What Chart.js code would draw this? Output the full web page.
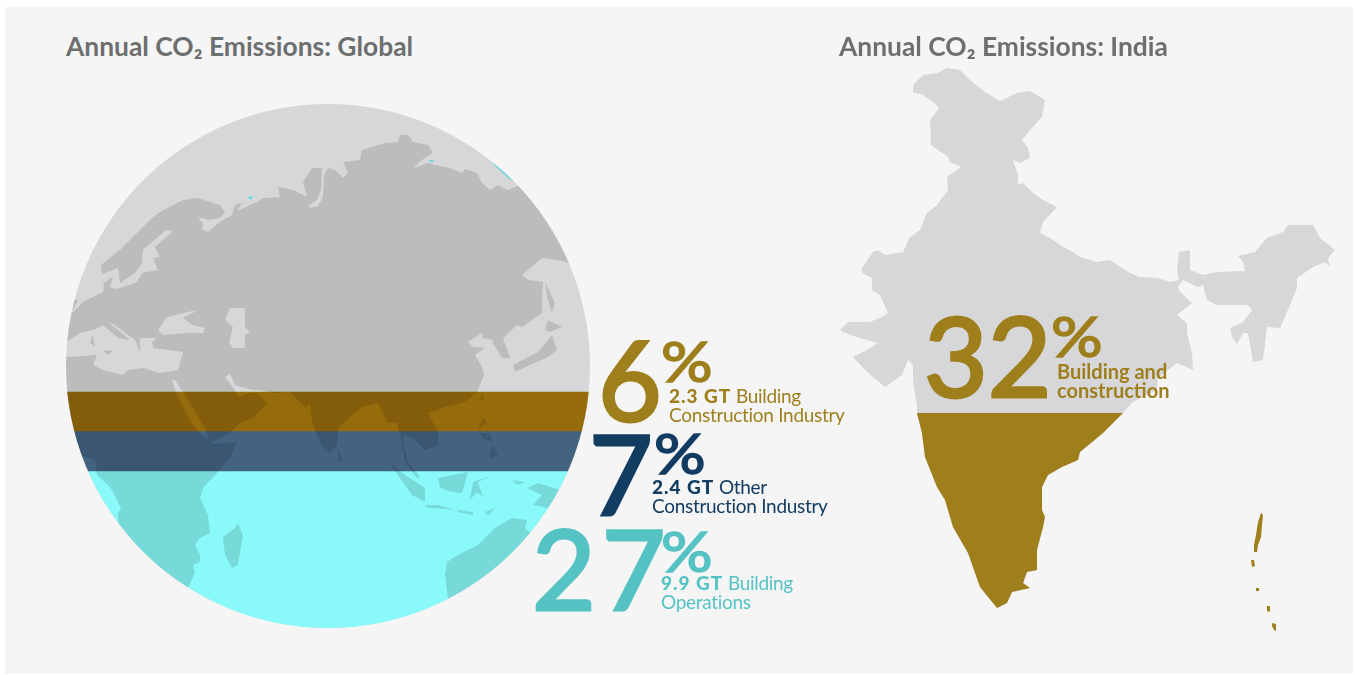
<!DOCTYPE html>
<html>
<head>
<meta charset="utf-8">
<title>Annual CO2 Emissions</title>
<script src="https://cdn.jsdelivr.net/npm/chart.js@4"></script>
<style>
  html, body { margin: 0; padding: 0; background: #fff; }
  body { width: 1355px; height: 675px; position: relative; overflow: hidden; font-family: Lato, sans-serif; }
  #panel { position: absolute; left: 5px; top: 7px; width: 1348px; height: 667px; background: #f5f5f5; }
  canvas { position: absolute; }
  #globeChart { left: 60px; top: 100px; }
  #indiaChart { left: 830px; top: 60px; }
  .title { position: absolute; top: 31px; font-size: 26.4px; line-height: 30px; font-weight: 700; color: #6d6f6f; white-space: nowrap; }
  .num, .pct, .desc { position: absolute; white-space: nowrap; }
  .num { font-size: 110px; line-height: 110px; font-weight: 400; -webkit-text-stroke: 3px currentColor; }
  .pct { font-size: 56px; line-height: 56px; font-weight: 400; -webkit-text-stroke: 1.6px currentColor; transform: scaleX(1.15); transform-origin: left top; }
  .desc { font-size: 19px; line-height: 19px; letter-spacing: -0.3px; }
  .desc b { font-weight: 900; letter-spacing: 1px; }
  .gold { color: #9e7f1c; }
  .navy { color: #123c61; }
  .teal { color: #55c3c3; }
</style>
</head>
<body>
<div id="panel"></div>
<canvas id="globeChart" width="540" height="540"></canvas>
<canvas id="indiaChart" width="510" height="580"></canvas>

<div class="title" style="left:66px" id="titleGlobal"></div>
<div class="title" style="left:839px" id="titleIndia"></div>

<div class="num gold" style="left:598px;top:323px" id="num0"></div>
<div class="pct gold" style="left:661px;top:333px" id="pct0"></div>
<div class="desc gold" style="left:669px;top:386px" id="desc0"></div>

<div class="num navy" style="left:589px;top:417px" id="num1"></div>
<div class="pct navy" style="left:654px;top:425px" id="pct1"></div>
<div class="desc navy" style="left:652px;top:477px" id="desc1"></div>

<div class="num teal" style="left:532px;top:512px;letter-spacing:6px" id="num2"></div>
<div class="pct teal" style="left:661px;top:523px" id="pct2"></div>
<div class="desc teal" style="left:661px;top:573px" id="desc2"></div>

<div class="num gold" style="left:924px;top:299px" id="num3"></div>
<div class="pct gold" style="left:1051px;top:308px" id="pct3"></div>
<div class="desc gold" style="left:1057px;top:362px;font-weight:700;font-size:20px;letter-spacing:0" id="desc3"></div>

<script>
const titles = ["Annual CO₂ Emissions: Global", "Annual CO₂ Emissions: India"];
const bandNames = ["Building Construction Industry", "Other Construction Industry", "Building Operations"];
const sharePercent = [6, 7, 27];
const shareGt = ["2.3 GT", "2.4 GT", "9.9 GT"];
const descFirst = ["Building", "Other", "Building"];
const descSecond = ["Construction Industry", "Construction Industry", "Operations"];
const indiaPercent = 32;
const indiaLines = ["Building and", "construction"];

// band heights as drawn on the globe, in GT of the band axis
const bandHeights = [2.44, 2.5, 9.81];
const bandColors = ["#966b0b", "#436381", "#8af9f9"];

const globeCenter = [328, 366];
const globeRadius = 262;

// map outlines, in map units
const eurasiaAfrica = [
  [60,313],[72,313],[83,302],[103,292],[104,283],[113,276],[110,287],[117,289],[137,282],[142,273],[158,270],[153,258],
  [178,254],[160,257],[155,247],[173,231],[166,230],[143,250],[142,263],[135,273],[120,283],[118,268],[102,274],[101,265],
  [122,248],[138,232],[150,220],[160,212],[183,200],[198,198],[220,205],[225,212],[220,218],[208,220],[198,217],[203,224],
  [202,229],[208,232],[218,223],[232,215],[235,205],[242,203],[237,211],[257,202],[263,198],[280,197],[278,187],[293,190],
  [307,197],[303,182],[312,168],[322,168],[321,190],[317,200],[308,206],[310,208],[318,206],[323,197],[324,175],[328,168],
  [335,170],[343,178],
  [348,173],[343,162],[360,160],[362,150],[385,143],[398,142],[400,135],[408,135],[413,142],[428,145],[433,153],[422,160],
  [413,168],[428,163],[435,165],[450,168],[462,173],[465,169],[477,173],[482,183],[490,190],[498,185],[508,190],[520,185],
  [545,190],[590,263],[570,263],[558,260],[542,258],[522,275],[528,280],[543,282],[542,300],[542,313],[522,327],[517,325],
  [503,338],[510,358],[502,358],[493,343],[493,340],[483,338],[482,333],[468,342],[473,347],[485,348],[475,355],[482,367],
  [484,375],[477,392],[465,402],[442,408],[428,413],[438,432],[438,445],[425,450],[415,440],[405,435],[403,442],[408,462],
  [420,477],[417,478],[405,462],[402,445],[397,423],[388,423],[378,403],[362,407],[338,428],[337,445],[330,453],[325,448],
  [323,448],[317,435],[312,422],[310,403],[305,408],[300,402],[290,392],[273,393],[260,390],[252,390],[235,385],[230,374],
  [225,377],[235,390],[238,397],[250,393],[257,393],[267,403],[253,418],[240,423],[230,433],[210,443],[207,432],[193,408],
  [183,392],[175,380],[172,379],[175,390],[187,415],[195,428],[203,437],[212,444],[237,442],[230,458],[217,473],[203,488],
  [200,498],[208,515],[210,533],[200,538],[195,545],[200,555],[200,562],[193,565],[195,573],[188,588],[140,600],[118,522],
  [118,513],[121,509],[116,498],[110,487],[97,475],[95,460],[87,457],[72,455],[50,450],[50,360],[67,357],[97,355],[93,365],
  [103,370],[123,375],[128,370],[143,368],[160,373],[178,370],[183,352],[153,348],[152,342],[157,338],[150,338],[140,338],
  [140,352],[135,340],[128,335],[115,325],[108,322],[130,340],[118,338],[103,325],[93,330],[80,333],[67,342],[50,345]
];
const blackSea = [[158,330],[167,317],[175,315],[188,312],[198,310],[183,318],[193,325],[205,328],[203,333],[187,333],[163,335]];
const caspianSea = [[225,320],[230,308],[245,308],[245,327],[250,332],[245,335],[245,348],[233,348],[229,342],[233,327]];
const smallIslands = [
  [[73,310],[78,300],[72,300]],
  [[90,343],[93,335],[95,347]],
  [[103,350],[113,351],[108,355]],
  [[480,398],[484,393],[482,403]],
  [[338,450],[343,460],[338,462]],
  [[390,463],[405,475],[425,488],[425,502],[412,495],[400,478]],
  [[425,505],[438,505],[455,510],[445,509],[428,508]],
  [[457,510],[473,512],[473,515],[458,512]],
  [[485,512],[497,507],[488,515]],
  [[438,478],[468,472],[462,493],[452,492],[440,488]],
  [[470,500],[473,482],[493,475],[478,482],[483,497],[477,492]],
  [[483,417],[487,422],[478,430]],
  [[492,445],[498,455],[490,458]],
  [[480,433],[490,433],[492,442],[482,438]],
  [[472,458],[458,472],[468,462]],
  [[527,488],[538,483],[560,490],[548,508],[533,505],[542,495]],
  [[512,480],[525,482],[518,485]],
  [[447,562],[458,555],[478,545],[495,528],[512,518],[527,520],[525,528],[530,533],[560,560],[480,620],[448,600],[445,575]],
  [[238,523],[243,535],[238,565],[232,568],[225,555],[223,537],[235,528]],
  [[545,282],[555,303],[552,313],[547,297]],
  [[548,320],[562,327],[550,332],[545,330]],
  [[552,335],[557,350],[548,357],[530,365],[515,372],[513,365],[538,352],[548,340]]
];
const arcticLakes = [
  [[247,197],[253,196],[251,200]],
  [[429,160],[433,160],[434,162],[430,162]],
  [[491,162],[503,170],[515,182],[508,178],[497,168]]
];

const indiaOutline = [
  [913,85],[913,92],[923,95],[933,102],[939,108],[930,120],[931,145],[948,157],[950,162],[961,167],[947,177],[948,190],
  [937,205],[927,213],[920,230],[910,237],[903,252],[885,255],[878,250],[873,252],[862,268],[862,273],[872,278],[872,290],
  [880,295],[888,313],[882,317],[870,322],[848,322],[840,330],[850,335],[867,340],[878,343],[867,350],[853,357],[867,372],
  [885,387],[902,375],[908,360],[913,365],[913,380],[917,407],[917,413],[922,433],[925,457],[937,487],[945,500],[953,527],
  [968,553],[980,587],[997,608],[1007,603],[1012,592],[1030,588],[1023,583],[1027,572],[1037,570],[1037,550],[1043,527],
  [1045,517],[1042,510],[1042,487],[1048,475],[1062,467],[1078,460],[1080,452],[1103,433],[1123,413],[1133,402],[1157,390],
  [1158,378],[1177,363],[1193,370],[1192,353],[1187,333],[1187,323],[1177,315],[1192,303],[1180,292],[1178,287],[1183,280],
  [1198,287],[1203,285],[1207,300],[1217,305],[1248,305],[1252,310],[1243,322],[1230,328],[1232,337],[1237,344],[1243,333],
  [1248,333],[1253,362],[1263,360],[1267,327],[1280,328],[1290,305],[1297,288],[1297,278],[1313,267],[1325,262],[1330,267],
  [1328,258],[1335,250],[1320,238],[1313,225],[1288,225],[1283,232],[1267,238],[1255,252],[1238,256],[1243,262],[1245,271],
  [1217,272],[1203,275],[1190,270],[1190,250],[1179,252],[1177,270],[1179,280],[1170,282],[1158,278],[1140,277],[1130,273],
  [1110,260],[1097,262],[1080,257],[1073,252],[1063,247],[1050,238],[1040,233],[1043,222],[1057,207],[1043,200],[1033,193],
  [1023,183],[1018,185],[1018,175],[1013,160],[1020,163],[1030,158],[1028,148],[1022,140],[1032,128],[1042,117],[1045,100],
  [1030,91],[1017,93],[1000,101],[985,92],[970,80],[960,70],[947,68],[937,73],[923,75]
];
const indiaIslands = [
  [[1261,513],[1263,515],[1262,525],[1261,537],[1258,545],[1257,552],[1254,552],[1254,545],[1256,535],[1258,522]],
  [[1251,560],[1254,560],[1255,566],[1252,567]],
  [[1256,588],[1259,588],[1259,591],[1256,591]],
  [[1267,606],[1270,606],[1270,612],[1267,611]],
  [[1272,623],[1276,624],[1276,631],[1274,630],[1272,626]]
];
// top of the 32% share on the India map
const indiaShareTop = 413;

function toPoints(rings) {
  return rings.flatMap((ring) => [...ring, [NaN, NaN]]);
}

// fills a scatter dataset as closed rings, using the points the scales placed
const polygonFill = {
  id: "polygonFill",
  afterDatasetDraw(chart, args) {
    const ds = chart.data.datasets[args.index];
    if (!ds.polygonColor) return;
    const ctx = chart.ctx;
    ctx.save();
    if (ds.belowValue !== undefined) {
      const top = chart.scales.mapY.getPixelForValue(ds.belowValue);
      ctx.beginPath();
      ctx.rect(0, top, chart.width, chart.height - top);
      ctx.clip();
    }
    ctx.beginPath();
    let start = true;
    args.meta.data.forEach((pt) => {
      if (pt.skip) {
        ctx.closePath();
        start = true;
        return;
      }
      if (start) ctx.moveTo(pt.x, pt.y);
      else ctx.lineTo(pt.x, pt.y);
      start = false;
    });
    ctx.fillStyle = ds.polygonColor;
    ctx.fill("evenodd");
    ctx.restore();
  },
};

// paints the globe disc and keeps the bands and land inside it
const globeDisc = {
  id: "globeDisc",
  beforeDatasetsDraw(chart) {
    const { mapX, mapY } = chart.scales;
    const ctx = chart.ctx;
    const cx = mapX.getPixelForValue(globeCenter[0]);
    const cy = mapY.getPixelForValue(globeCenter[1]);
    const r = mapX.getPixelForValue(globeCenter[0] + globeRadius) - cx;
    ctx.save();
    ctx.beginPath();
    ctx.arc(cx, cy, r, 0, Math.PI * 2);
    ctx.fillStyle = "#d7d7d9";
    ctx.fill();
    ctx.clip();
  },
  afterDatasetsDraw(chart) {
    chart.ctx.restore();
  },
};

function mapDataset(data, color, order, extra) {
  return {
    type: "scatter",
    data,
    xAxisID: "mapX",
    yAxisID: "mapY",
    pointRadius: 0,
    showLine: false,
    polygonColor: color,
    order,
    ...extra,
  };
}

const hiddenAxis = (axis, min, max, reverse) => ({ axis, type: "linear", display: false, offset: false, min, max, reverse });

new Chart(document.getElementById("globeChart"), {
  type: "bar",
  plugins: [polygonFill, globeDisc],
  data: {
    labels: ["Global"],
    datasets: [
      ...bandHeights.map((h, i) => ({
        label: bandNames[i],
        data: [h],
        backgroundColor: bandColors[i],
        xAxisID: "band",
        yAxisID: "gt",
        stack: "share",
        grouped: false,
        barPercentage: 1,
        categoryPercentage: 1,
        order: 3,
      })),
      mapDataset(toPoints([eurasiaAfrica, blackSea, caspianSea, ...smallIslands]), "rgba(0,0,0,0.125)", 2),
      mapDataset(toPoints(arcticLakes), "#6fd8d8", 1),
    ],
  },
  options: {
    responsive: false,
    animation: false,
    events: [],
    layout: { padding: 0 },
    plugins: { legend: { display: false }, tooltip: { enabled: false } },
    scales: {
      band: { axis: "x", type: "category", display: false, offset: true, stacked: true },
      gt: { ...hiddenAxis("y", -18.25, 15.5, true), stacked: true },
      mapX: hiddenAxis("x", 60, 600, false),
      mapY: hiddenAxis("y", 100, 640, true),
    },
  },
});

new Chart(document.getElementById("indiaChart"), {
  type: "scatter",
  plugins: [polygonFill],
  data: {
    datasets: [
      mapDataset(toPoints([indiaOutline]), "#d7d7d9", 3),
      mapDataset(toPoints([indiaOutline]), "#9e7f1c", 2, { belowValue: indiaShareTop }),
      mapDataset(toPoints(indiaIslands), "#9e7f1c", 1),
    ],
  },
  options: {
    responsive: false,
    animation: false,
    events: [],
    layout: { padding: 0 },
    plugins: { legend: { display: false }, tooltip: { enabled: false } },
    scales: {
      mapX: hiddenAxis("x", 830, 1340, false),
      mapY: hiddenAxis("y", 60, 640, true),
    },
  },
});

document.getElementById("titleGlobal").textContent = titles[0];
document.getElementById("titleIndia").textContent = titles[1];
sharePercent.forEach((p, i) => {
  document.getElementById("num" + i).textContent = p;
  document.getElementById("pct" + i).textContent = "%";
  document.getElementById("desc" + i).innerHTML = `<b>${shareGt[i]}</b> ${descFirst[i]}<br>${descSecond[i]}`;
});
document.getElementById("num3").textContent = indiaPercent;
document.getElementById("pct3").textContent = "%";
document.getElementById("desc3").innerHTML = indiaLines.join("<br>");
</script>
</body>
</html>
